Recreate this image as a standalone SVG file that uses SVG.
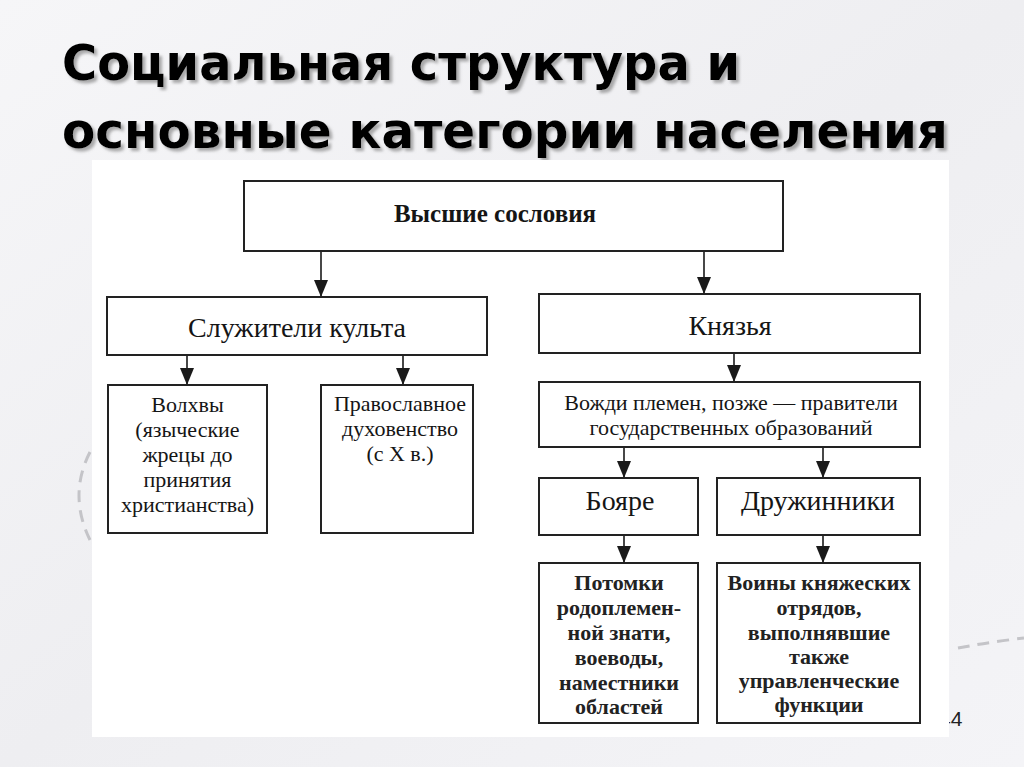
<svg xmlns="http://www.w3.org/2000/svg" width="1024" height="767" viewBox="0 0 1024 767">
<defs>
<linearGradient id="bg" x1="0" y1="0" x2="1" y2="1">
<stop offset="0" stop-color="#f6f6f8"/>
<stop offset="0.5" stop-color="#eeeef1"/>
<stop offset="1" stop-color="#f4f4f7"/>
</linearGradient>
<filter id="sh" x="-5%" y="-20%" width="110%" height="140%">
<feDropShadow dx="3" dy="3" stdDeviation="1.5" flood-color="#777" flood-opacity="0.6"/>
</filter>
<marker id="ah" markerUnits="userSpaceOnUse" markerWidth="17" markerHeight="14" refX="17" refY="7" orient="auto">
<path d="M0,0 L17,7 L0,14 z" fill="#1a1a1a"/>
</marker>
<style>
.box{fill:#fff;stroke:#222;stroke-width:2}
.t{font-family:"Liberation Serif","Times New Roman",serif;fill:#151515;text-anchor:middle}
.big{font-size:28px}
.sm{font-size:22px}
.b{font-weight:bold}
.lb{fill:#222}
.con{stroke:#1a1a1a;stroke-width:1.6;fill:none;marker-end:url(#ah)}
.title{font-family:"DejaVu Sans","Liberation Sans",sans-serif;font-weight:bold;font-size:50px;fill:#000}
.deco{fill:none;stroke:#c4c4c8;stroke-width:3;stroke-dasharray:12 8}
</style>
</defs>
<rect x="0" y="0" width="1024" height="767" fill="url(#bg)"/>
<path class="deco" d="M90,452 Q68,495 90,540"/>
<path class="deco" d="M958,648 Q990,642 1024,638"/>
<text x="939" y="726" font-family="Liberation Sans,Arial,sans-serif" font-size="21" fill="#222">44</text>
<g id="title" filter="url(#sh)">
<text class="title" x="62" y="80" textLength="678" lengthAdjust="spacingAndGlyphs">Социальная структура и</text>
<text class="title" x="62" y="148" textLength="886" lengthAdjust="spacingAndGlyphs">основные категории населения</text>
</g>
<rect x="92" y="160" width="857" height="577" fill="#fff"/>
<g id="connectors">
<line class="con" x1="321" y1="251" x2="321" y2="297"/>
<line class="con" x1="704" y1="251" x2="704" y2="294"/>
<line class="con" x1="187" y1="355" x2="187" y2="385"/>
<line class="con" x1="403" y1="355" x2="403" y2="385"/>
<line class="con" x1="734" y1="353" x2="734" y2="382"/>
<line class="con" x1="624" y1="447" x2="624" y2="478"/>
<line class="con" x1="823" y1="447" x2="823" y2="478"/>
<line class="con" x1="624" y1="535" x2="624" y2="563"/>
<line class="con" x1="823" y1="535" x2="823" y2="563"/>
</g>
<g id="vysshie">
<rect class="box" x="244" y="181" width="539" height="70"/>
<text class="t b" x="495" y="222" font-size="25">Высшие сословия</text>
</g>
<g id="sluzhiteli">
<rect class="box" x="107" y="297" width="380" height="58"/>
<text class="t big" x="297" y="337">Служители культа</text>
</g>
<g id="knyazya">
<rect class="box" x="539" y="294" width="381" height="59"/>
<text class="t big" x="730" y="335">Князья</text>
</g>
<g id="volkhvy">
<rect class="box" x="108" y="385" width="159" height="148"/>
<text class="t sm" x="187.5" y="412">Волхвы</text>
<text class="t sm" x="187.5" y="437">(языческие</text>
<text class="t sm" x="187.5" y="462">жрецы до</text>
<text class="t sm" x="187.5" y="487">принятия</text>
<text class="t sm" x="187.5" y="512">христианства)</text>
</g>
<g id="pravoslavnoe">
<rect class="box" x="321" y="385" width="152" height="148"/>
<text class="t sm" x="400" y="411">Православное</text>
<text class="t sm" x="400" y="436">духовенство</text>
<text class="t sm" x="400" y="461">(с X в.)</text>
</g>
<g id="vozhdi">
<rect class="box" x="539" y="382" width="381" height="65"/>
<text class="t sm" x="731" y="410">Вожди племен, позже — правители</text>
<text class="t sm" x="731" y="435">государственных образований</text>
</g>
<g id="boyare">
<rect class="box" x="539" y="478" width="159" height="57"/>
<text class="t big" x="620" y="510">Бояре</text>
</g>
<g id="druzhinniki">
<rect class="box" x="717" y="478" width="203" height="57"/>
<text class="t big" x="818" y="510">Дружинники</text>
</g>
<g id="potomki">
<rect class="box" x="539" y="563" width="159" height="160"/>
<text class="t sm b lb" x="619" y="590">Потомки</text>
<text class="t sm b lb" x="619" y="615">родоплемен-</text>
<text class="t sm b lb" x="619" y="640">ной знати,</text>
<text class="t sm b lb" x="619" y="665">воеводы,</text>
<text class="t sm b lb" x="619" y="690">наместники</text>
<text class="t sm b lb" x="619" y="714">областей</text>
</g>
<g id="voiny">
<rect class="box" x="717" y="563" width="203" height="160"/>
<text class="t sm b lb" x="819" y="590">Воины княжеских</text>
<text class="t sm b lb" x="819" y="615">отрядов,</text>
<text class="t sm b lb" x="819" y="640">выполнявшие</text>
<text class="t sm b lb" x="819" y="664">также</text>
<text class="t sm b lb" x="819" y="688">управленческие</text>
<text class="t sm b lb" x="819" y="712">функции</text>
</g>
</svg>
